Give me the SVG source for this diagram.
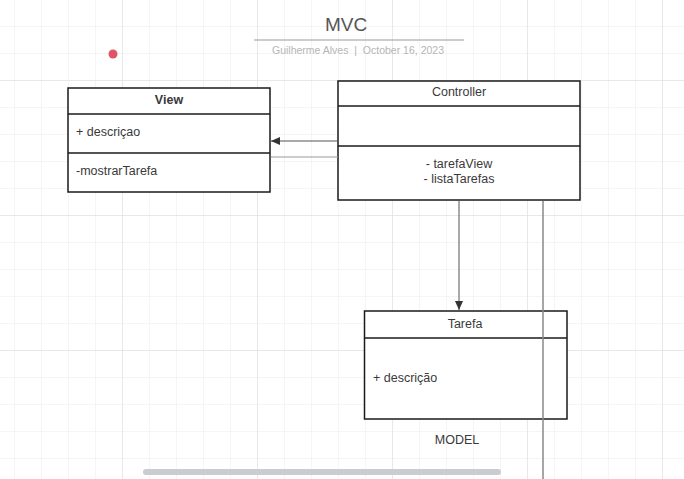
<svg xmlns="http://www.w3.org/2000/svg" width="684" height="479" viewBox="0 0 684 479">
<defs>
<pattern id="minor" x="14" y="-1" width="27" height="27" patternUnits="userSpaceOnUse">
<path d="M0 0H27M0 0V27" fill="none" stroke="#ebebeb" stroke-width="1"/>
</pattern>
<pattern id="major" x="122" y="80" width="135" height="135" patternUnits="userSpaceOnUse">
<path d="M0 0H135M0 0V135" fill="none" stroke="#dcdcdc" stroke-width="1"/>
</pattern>
<marker id="arr" markerWidth="10" markerHeight="10" refX="9" refY="5" orient="auto" markerUnits="userSpaceOnUse">
<path d="M0 1L9 5L0 9Z" fill="#333"/>
</marker>
</defs>
<style>
.box{fill:#fff;stroke:#1a1a1a;stroke-width:1.5}
.div{stroke:#1a1a1a;stroke-width:1.5}
.t{font-family:"Liberation Sans",Arial,sans-serif;font-size:12.5px;fill:#3a3a3a}
.c{text-anchor:middle}
.conn{fill:none;stroke:#555;stroke-width:1}
</style>
<rect width="684" height="479" fill="#fff"/>
<rect width="684" height="479" fill="url(#minor)"/>
<rect width="684" height="479" fill="url(#major)"/>

<g id="title">
<text x="346" y="31" class="c" font-family="Liberation Sans,Arial,sans-serif" font-size="19" fill="#555">MVC</text>
<line x1="254" y1="40" x2="464" y2="40" stroke="#9a9a9a" stroke-width="1.2"/>
<text x="358" y="54" class="c" font-family="Liberation Sans,Arial,sans-serif" font-size="10.5" fill="#b5b5b5" xml:space="preserve">Guilherme Alves  |  October 16, 2023</text>
</g>

<circle cx="113" cy="54" r="4.5" fill="#e05565"/>

<g id="view">
<rect x="68" y="88" width="202" height="104" class="box"/>
<line x1="68" y1="114" x2="270" y2="114" class="div"/>
<line x1="68" y1="153" x2="270" y2="153" class="div"/>
<text x="169" y="104" class="t c" font-weight="bold" fill="#555">View</text>
<text x="76" y="136" class="t">+ descriçao</text>
<text x="76" y="175" class="t">-mostrarTarefa</text>
</g>

<g id="controller">
<rect x="338" y="81" width="242" height="119" class="box"/>
<line x1="338" y1="106" x2="580" y2="106" class="div"/>
<line x1="338" y1="146" x2="580" y2="146" class="div"/>
<text x="459" y="96" class="t c">Controller</text>
<text x="459" y="168" class="t c">- tarefaView</text>
<text x="459" y="183" class="t c">- listaTarefas</text>
</g>

<g id="tarefa">
<rect x="364.500" y="311" width="202.500" height="108" class="box"/>
<line x1="364" y1="338" x2="567" y2="338" class="div"/>
<text x="465" y="328" class="t c" font-size="15" fill="#444">Tarefa</text>
<text x="373" y="382" class="t">+ descrição</text>
</g>

<text x="457" y="444" class="t c" fill="#444">MODEL</text>

<g id="connectors">
<line x1="338" y1="141" x2="271" y2="141" class="conn" marker-end="url(#arr)"/>
<line x1="271" y1="157" x2="338" y2="157" stroke="#999" stroke-width="1.2"/>
<line x1="459" y1="201" x2="459" y2="310" class="conn" marker-end="url(#arr)"/>
<line x1="543" y1="201" x2="543" y2="479" stroke="#888" stroke-width="1.5"/>
</g>

<rect x="143" y="469" width="358" height="6" rx="3" fill="#c9ccd1"/>
</svg>
